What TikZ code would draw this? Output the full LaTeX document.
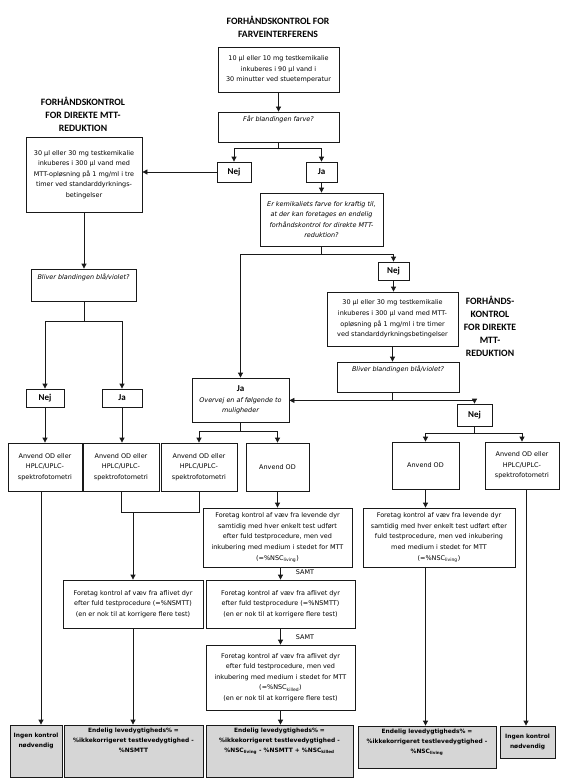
\documentclass[tikz,border=0pt]{standalone}
\usepackage{fontspec}
\setmainfont{DejaVu Sans}
\newfontfamily\carlitofam{Carlito}
\usetikzlibrary{arrows.meta}
\tikzset{
  bx/.style={draw=black!90, line width=0.8pt, inner sep=0pt, align=center, font=\fontsize{6.45}{10.6}\selectfont},
  gbx/.style={bx, fill=black!16},
  ttl/.style={inner sep=0pt, align=center, font=\carlitofam\bfseries\fontsize{9.7}{13}\selectfont},
  yn/.style={bx, font=\carlitofam\bfseries\fontsize{9}{11}\selectfont},
  txt/.style={inner sep=0pt, align=center, font=\fontsize{6.45}{10.6}\selectfont},
  btxt/.style={inner sep=0pt, align=center, font=\bfseries\fontsize{5.9}{10}\selectfont},
  conn/.style={line width=0.8pt, draw=black!90},
  arr/.style={conn, -{Triangle[length=5pt,width=5pt]}},
}
\newcommand\bxn[6]{\node[#6, minimum width={#4-#2}, minimum height={#5-#3}] (#1) at ({(#2+#4)/2},{-(#3+#5)/2})}
\begin{document}
\begin{tikzpicture}[x=1pt,y=1pt]
\useasboundingbox (0,0) rectangle (570,-781);
% titles
\node[ttl] (t1) at (278,-27) {FORHÅNDSKONTROL FOR\\FARVEINTERFERENS};
\node[ttl] (t2) at (83,-114) {FORHÅNDSKONTROL\\FOR DIREKTE MTT-\\REDUKTION};
\node[ttl] (t3) at (490,-326) {FORHÅNDS-\\KONTROL\\FOR DIREKTE\\MTT-\\REDUKTION};
% top
\bxn{B1}{218}{47}{339}{92}{bx} {10 µl eller 10 mg testkemikalie\\inkuberes i 90 µl vand i\\30 minutter ved stuetemperatur};
\bxn{B2}{218}{112}{339}{142}{bx} {};
\node[txt, anchor=north] (B2t) at ([yshift=-4pt]B2.north) {\itshape Får blandingen farve?};
\bxn{Nej1}{217}{162}{251}{182}{yn} {Nej};
\bxn{Ja1}{306}{162}{337}{182}{yn} {Ja};
% left branch
\bxn{L1}{26}{137}{142}{212}{bx} {30 µl eller 30 mg testkemikalie\\inkuberes i 300 µl vand med\\MTT-opløsning på 1 mg/ml i tre\\timer ved standarddyrknings-\\betingelser};
\bxn{L2}{31}{269}{136}{301}{bx} {};
\node[txt, anchor=north] (L2t) at ([yshift=-5pt]L2.north) {\itshape Bliver blandingen blå/violet?};
\bxn{Nej2}{26}{389}{64}{407}{yn} {Nej};
\bxn{Ja2}{102}{389}{142}{407}{yn} {Ja};
% right branch
\bxn{Er}{260}{193}{383}{246}{bx} {\itshape Er kemikaliets farve for kraftig til,\\\itshape at der kan foretages en endelig\\\itshape forhåndskontrol for direkte MTT-\\\itshape reduktion?};
\bxn{Nej3}{378}{262}{409}{280}{yn} {Nej};
\bxn{R1}{327}{292}{458}{346}{bx} {30 µl eller 30 mg testkemikalie\\inkuberes i 300 µl vand med MTT-\\opløsning på 1 mg/ml i tre timer\\ved standarddyrkningsbetingelser};
\bxn{R2}{337}{362}{459}{392}{bx} {};
\node[txt, anchor=north] (R2t) at ([yshift=-4pt]R2.north) {\itshape Bliver blandingen blå/violet?};
\bxn{Ja3}{192}{378}{289}{422}{bx} {{\carlitofam\bfseries\fontsize{9}{11}\selectfont Ja}\\{\itshape Overvej en af følgende to}\\{\itshape muligheder}};
\bxn{Nej4}{457}{404}{492}{426}{yn} {Nej};
% method boxes
\bxn{A}{8}{443}{82}{491}{bx} {Anvend OD eller\\HPLC/UPLC-\\spektrofotometri};
\bxn{B}{83}{443}{159}{491}{bx} {Anvend OD eller\\HPLC/UPLC-\\spektrofotometri};
\bxn{C}{161}{443}{237}{491}{bx} {Anvend OD eller\\HPLC/UPLC-\\spektrofotometri};
\bxn{D}{246}{443}{309}{491}{bx} {Anvend OD};
\bxn{RA}{392}{442}{459}{489}{bx} {Anvend OD};
\bxn{RB}{485}{442}{559}{489}{bx} {Anvend OD eller\\HPLC/UPLC-\\spektrofotometri};
% control boxes
\bxn{F}{203}{508}{352}{567}{bx} {Foretag kontrol af væv fra levende dyr\\samtidig med hver enkelt test udført\\efter fuld testprocedure, men ved\\inkubering med medium i stedet for MTT\\(=\%NSC\textsubscript{living})};
\bxn{G}{363}{508}{515}{567}{bx} {Foretag kontrol af væv fra levende dyr\\samtidig med hver enkelt test udført efter\\fuld testprocedure, men ved inkubering\\med medium i stedet for MTT\\(=\%NSC\textsubscript{living})};
\bxn{E}{63}{580}{203}{628}{bx} {Foretag kontrol af væv fra aflivet dyr\\efter fuld testprocedure (=\%NSMTT)\\(en er nok til at korrigere flere test)};
\bxn{H}{206}{580}{355}{628}{bx} {Foretag kontrol af væv fra aflivet dyr\\efter fuld testprocedure (=\%NSMTT)\\(en er nok til at korrigere flere test)};
\bxn{I}{206}{645}{355}{710}{bx} {Foretag kontrol af væv fra aflivet dyr\\efter fuld testprocedure, men ved\\inkubering med medium i stedet for MTT\\(=\%NSC\textsubscript{killed})\\(en er nok til at korrigere flere test)};
\node[txt] (samt1) at (305,-572) {SAMT};
\node[txt] (samt2) at (305,-637) {SAMT};
% bottom
\bxn{IngenL}{10}{725}{62}{777}{gbx} {};
\node[btxt, anchor=north] (IngenLt) at ([yshift=-8pt]IngenL.north) {Ingen kontrol\\nødvendig};
\bxn{EndL}{64}{725}{203}{777}{gbx} {};
\node[btxt, anchor=north] (EndLt) at ([yshift=-3pt]EndL.north) {Endelig levedygtigheds\% =\\\%ikkekorrigeret testlevedygtighed -\\\%NSMTT};
\bxn{EndM}{206}{725}{353}{777}{gbx} {};
\node[btxt, anchor=north] (EndMt) at ([yshift=-3pt]EndM.north) {Endelig levedygtigheds\% =\\\%ikkekorrigeret testlevedygtighed -\\\%NSC\textsubscript{living} - \%NSMTT + \%NSC\textsubscript{killed}};
\bxn{EndR}{358}{726}{496}{768}{gbx} {};
\node[btxt, anchor=north] (EndRt) at ([yshift=-3pt]EndR.north) {Endelig levedygtigheds\% =\\\%ikkekorrigeret testlevedygtighed -\\\%NSC\textsubscript{living}};
\bxn{IngenR}{500}{726}{555}{758}{gbx} {};
\node[btxt] (IngenRt) at (IngenR.center) {Ingen kontrol\\nødvendig};
% connectors top
\draw[arr] (B1.south) -- (B1.south |- B2.north);
\draw[conn] (B1.south |- B2.south) -- ++(0,-6) coordinate (b2j);
\draw[conn] (b2j -| Nej1) -- (b2j -| Ja1);
\draw[arr] (b2j -| Nej1) -- (Nej1.north);
\draw[arr] (b2j -| Ja1) -- (Ja1.north);
\draw[arr] (Nej1.west) -- (Nej1.west -| L1.east);
% left
\draw[arr] (L1.south) -- (L1.south |- L2.north);
\draw[conn] (L1.south |- L2.south) -- ++(0,-20) coordinate (l2j);
\draw[conn] (l2j -| Nej2) -- (l2j -| Ja2);
\draw[arr] (l2j -| Nej2) -- (Nej2.north);
\draw[arr] (l2j -| Ja2) -- (Ja2.north);
\draw[arr] (Nej2.south) -- (Nej2.south |- A.north);
\draw[arr] (Ja2.south) -- (Ja2.south |- B.north);
% right
\draw[arr] (Ja1.south) -- (Ja1.south |- Er.north);
\draw[conn] (Er.south) -- ++(0,-8) coordinate (erj);
\draw[conn] (erj -| Ja3) -- (erj -| Nej3);
\draw[arr] (erj -| Ja3) -- (Ja3.north);
\draw[arr] (erj -| Nej3) -- (Nej3.north);
\draw[arr] (Nej3.south) -- (Nej3.south |- R1.north);
\draw[arr] (R1.south) -- (R1.south |- R2.north);
\draw[conn] (R1.south |- R2.south) -- ++(0,-8) coordinate (r2j);
\draw[arr] (r2j) -- (r2j -| Ja3.east);
\draw[conn] (r2j) -- (r2j -| Nej4);
\draw[arr] (r2j -| Nej4) -- (Nej4.north);
\draw[conn] (Ja3.south) -- ++(0,-9) coordinate (j3);
\draw[conn] (j3 -| C) -- (j3 -| D);
\draw[arr] (j3 -| C) -- (C.north);
\draw[arr] (j3 -| D) -- (D.north);
\draw[conn] (Nej4.south) -- ++(0,-7) coordinate (n4);
\draw[conn] (n4 -| RA) -- (n4 -| RB);
\draw[arr] (n4 -| RA) -- (RA.north);
\draw[arr] (n4 -| RB) -- (RB.north);
% lower
\draw[arr] ([xshift=-4pt]A.south) -- ([xshift=-4pt]A.south |- IngenL.north);
\draw[conn] (B.south) -- ++(0,-21) coordinate (bcj) -- (bcj -| C) -- (C.south);
\draw[arr] (bcj -| E) -- (E.north);
\draw[arr] (E.south) -- (E.south |- EndL.north);
\draw[arr] (D.south) -- (D.south |- F.north);
\draw[arr] (F.south -| H) -- (H.north);
\draw[arr] (H.south) -- (I.north);
\draw[arr] (I.south) -- (I.south |- EndM.north);
\draw[arr] (RA.south) -- (RA.south |- G.north);
\draw[arr] (RA.south |- G.south) -- (RA.south |- EndR.north);
\draw[arr] ([xshift=4pt]RB.south) -- ([xshift=4pt]RB.south |- IngenR.north);
\end{tikzpicture}
\end{document}
